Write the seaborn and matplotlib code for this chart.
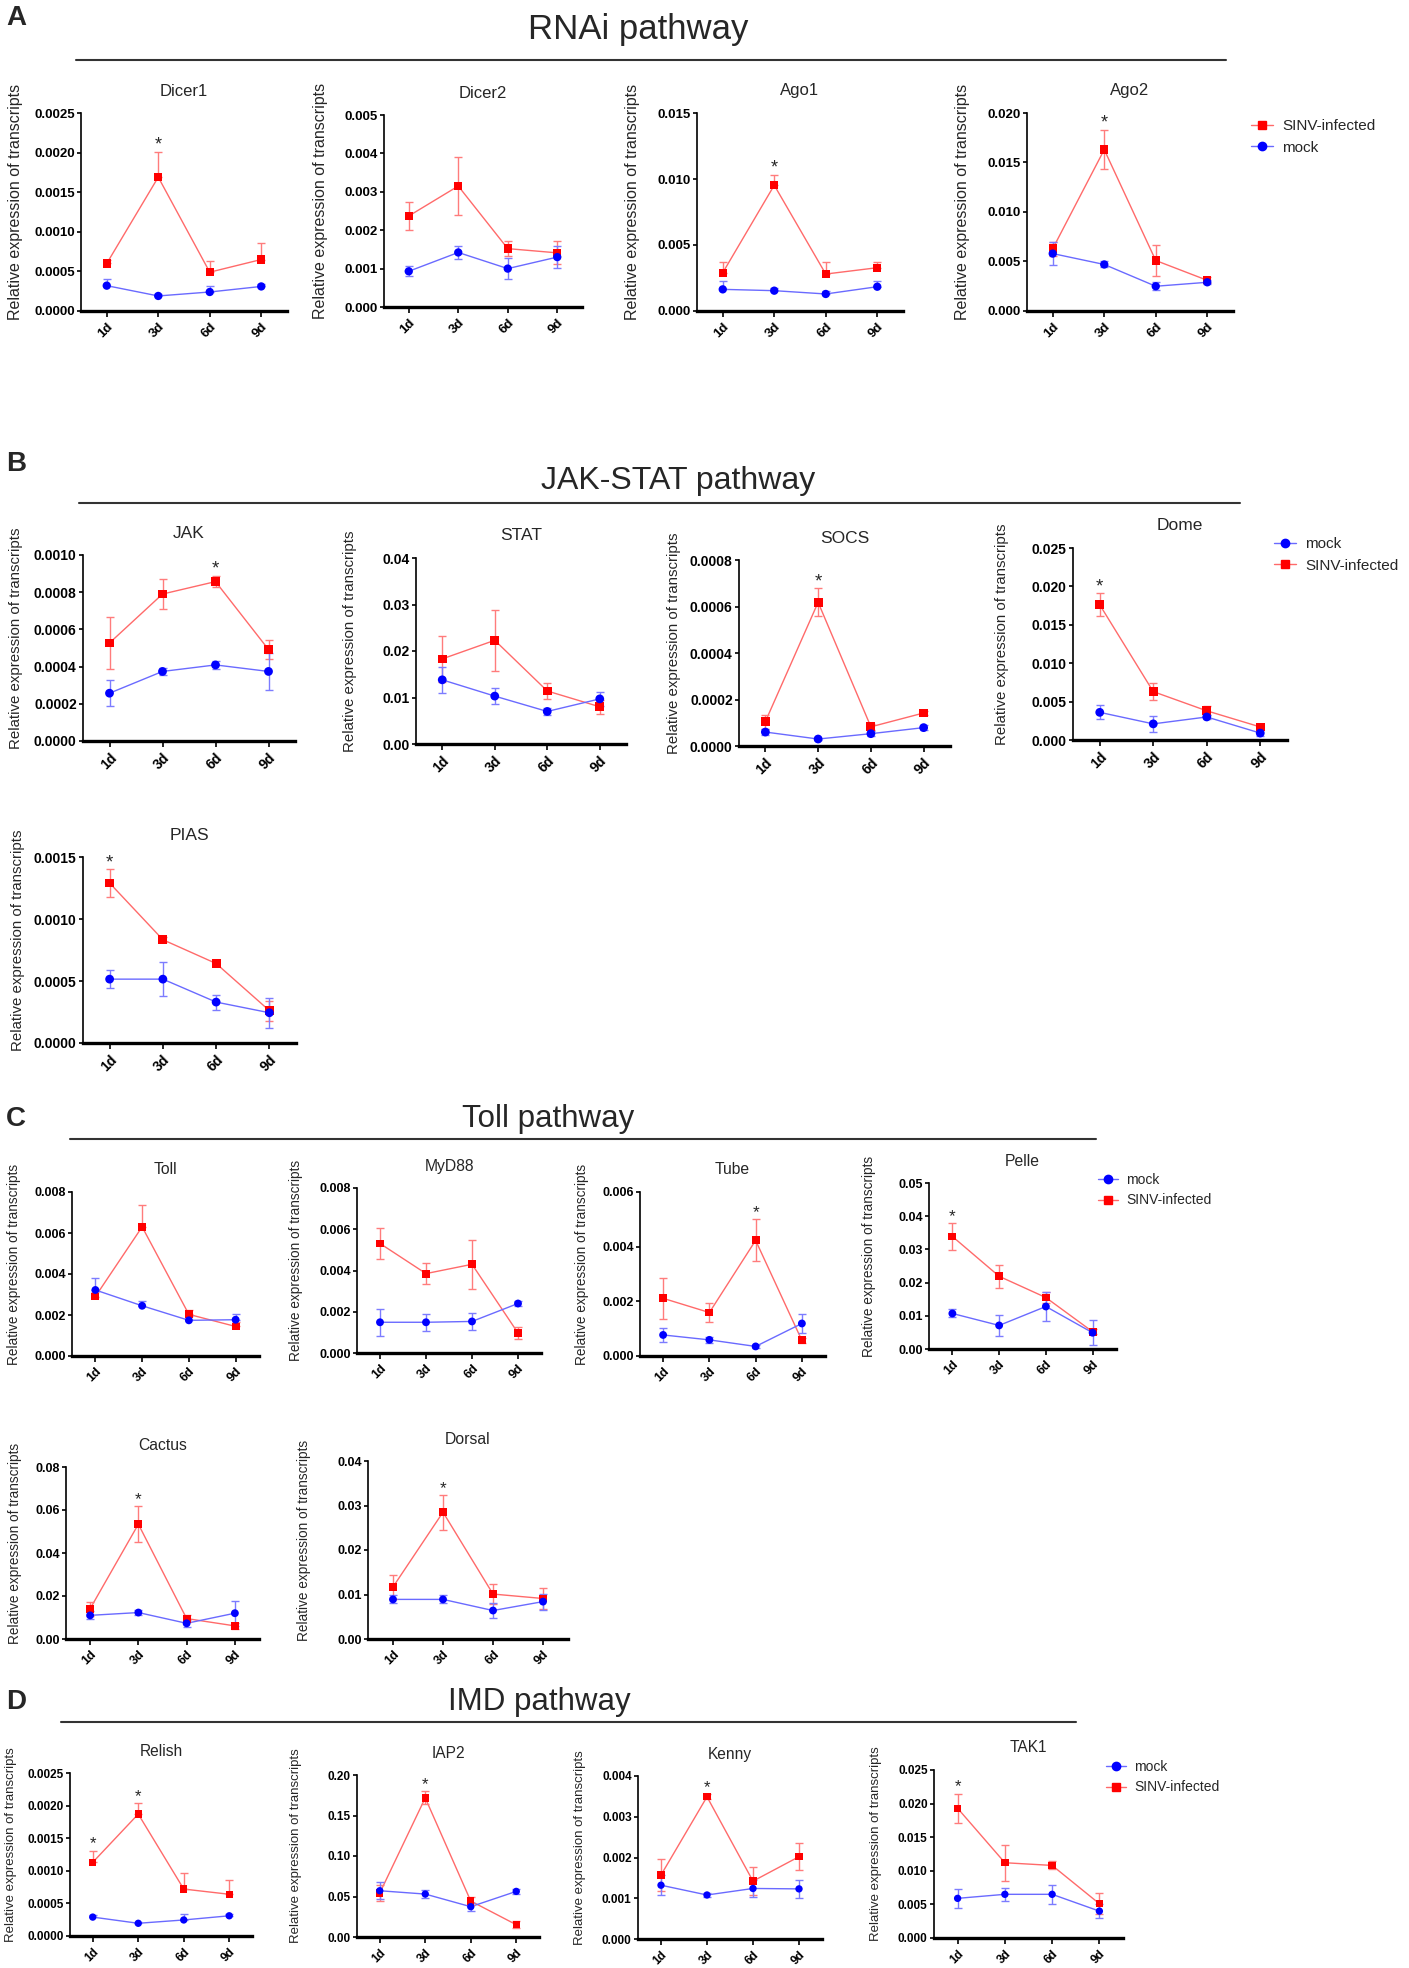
import matplotlib
matplotlib.use("Agg")
import matplotlib.pyplot as plt
import numpy as np
import pandas as pd
import seaborn as sns
from matplotlib.lines import Line2D
from matplotlib.ticker import FormatStrFormatter, MultipleLocator

DAYS = ["1d", "3d", "6d", "9d"]
YLABEL = "Relative expression of transcripts"

# RNAi pathway
dicer1_inf = [0.00060, 0.00169, 0.00049, 0.00065]
dicer1_inf_err = [0.00005, 0.00032, 0.00014, 0.00021]
dicer1_mock = [0.00032, 0.00019, 0.00024, 0.00031]
dicer1_mock_err = [0.00009, 0.00002, 0.00008, 0.00003]

dicer2_inf = [0.00237, 0.00315, 0.00152, 0.00141]
dicer2_inf_err = [0.00037, 0.00075, 0.00020, 0.00030]
dicer2_mock = [0.00093, 0.00142, 0.00100, 0.00130]
dicer2_mock_err = [0.00013, 0.00017, 0.00028, 0.00029]

ago1_inf = [0.0029, 0.00953, 0.0028, 0.00328]
ago1_inf_err = [0.0008, 0.0008, 0.0009, 0.0004]
ago1_mock = [0.00164, 0.00154, 0.00129, 0.00184]
ago1_mock_err = [0.0006, 0.0002, 0.0002, 0.0004]

ago2_inf = [0.0063, 0.0163, 0.0051, 0.0031]
ago2_inf_err = [0.0007, 0.0020, 0.0016, 0.0003]
ago2_mock = [0.0058, 0.0047, 0.0025, 0.0029]
ago2_mock_err = [0.0012, 0.0003, 0.0004, 0.0002]

# JAK-STAT pathway
jak_inf = [0.000527, 0.00079, 0.000857, 0.000492]
jak_inf_err = [0.00014, 0.00008, 0.00003, 0.00005]
jak_mock = [0.000257, 0.000374, 0.000409, 0.000374]
jak_mock_err = [0.00007, 0.00002, 0.00002, 0.0001]

stat_inf = [0.0183, 0.0223, 0.0114, 0.0080]
stat_inf_err = [0.0050, 0.0066, 0.0018, 0.0015]
stat_mock = [0.0138, 0.0103, 0.0070, 0.0097]
stat_mock_err = [0.0028, 0.0018, 0.0008, 0.0015]

socs_inf = [0.000105, 0.000618, 0.0000825, 0.000142]
socs_inf_err = [0.00003, 0.00006, 0.000014, 0.000008]
socs_mock = [0.00006, 0.00003, 0.000053, 0.000079]
socs_mock_err = [0.000012, 0.000005, 0.00001, 0.00001]

dome_inf = [0.0176, 0.0063, 0.0038, 0.0017]
dome_inf_err = [0.0015, 0.0011, 0.0006, 0.0004]
dome_mock = [0.0036, 0.0021, 0.0030, 0.0009]
dome_mock_err = [0.0009, 0.0010, 0.0003, 0.0004]

pias_inf = [0.00129, 0.000833, 0.000641, 0.000261]
pias_inf_err = [0.00011, 0.00002, 0.00001, 0.00008]
pias_mock = [0.000515, 0.000515, 0.00033, 0.000244]
pias_mock_err = [0.00007, 0.000135, 0.00006, 0.00012]

# Toll pathway
toll_inf = [0.0029, 0.0063, 0.00203, 0.00144]
toll_inf_err = [0.0002, 0.00105, 0.00023, 0.0002]
toll_mock = [0.00322, 0.00245, 0.00174, 0.00177]
toll_mock_err = [0.00057, 0.00025, 0.0002, 0.00026]

myd88_inf = [0.00531, 0.00385, 0.0043, 0.00097]
myd88_inf_err = [0.00075, 0.0005, 0.0012, 0.0003]
myd88_mock = [0.00149, 0.00149, 0.00153, 0.0024]
myd88_mock_err = [0.00066, 0.0004, 0.00043, 0.0001]

tube_inf = [0.00211, 0.00159, 0.00423, 0.00057]
tube_inf_err = [0.00076, 0.00035, 0.00077, 0.0001]
tube_mock = [0.00077, 0.00059, 0.00035, 0.00119]
tube_mock_err = [0.00027, 0.00012, 0.00005, 0.00036]

pelle_inf = [0.0339, 0.0219, 0.0155, 0.0052]
pelle_inf_err = [0.0041, 0.0035, 0.0017, 0.0007]
pelle_mock = [0.0107, 0.0071, 0.0128, 0.0049]
pelle_mock_err = [0.0012, 0.0031, 0.0044, 0.0038]

cactus_inf = [0.0141, 0.0534, 0.0095, 0.0061]
cactus_inf_err = [0.0032, 0.0083, 0.0018, 0.0015]
cactus_mock = [0.0110, 0.0123, 0.0073, 0.0120]
cactus_mock_err = [0.0018, 0.0012, 0.0015, 0.0058]

dorsal_inf = [0.0117, 0.0285, 0.0101, 0.0091]
dorsal_inf_err = [0.0027, 0.0039, 0.0022, 0.0024]
dorsal_mock = [0.0089, 0.0089, 0.0064, 0.0084]
dorsal_mock_err = [0.0009, 0.0009, 0.0017, 0.0018]

# IMD pathway
relish_inf = [0.00113, 0.00187, 0.00072, 0.00064]
relish_inf_err = [0.00018, 0.00017, 0.00024, 0.00022]
relish_mock = [0.00029, 0.000195, 0.000246, 0.00031]
relish_mock_err = [0.00003, 0.00002, 0.00009, 0.00003]

iap2_inf = [0.0542, 0.1717, 0.0444, 0.0152]
iap2_inf_err = [0.010, 0.008, 0.005, 0.004]
iap2_mock = [0.0571, 0.0530, 0.0374, 0.0563]
iap2_mock_err = [0.0103, 0.0053, 0.005, 0.003]

kenny_inf = [0.00157, 0.00349, 0.00142, 0.00202]
kenny_inf_err = [0.00039, 0.00006, 0.00035, 0.00033]
kenny_mock = [0.00132, 0.00108, 0.00124, 0.00123]
kenny_mock_err = [0.00025, 0.00005, 0.0002, 0.00023]

tak1_inf = [0.0193, 0.0112, 0.0108, 0.0051]
tak1_inf_err = [0.0022, 0.0027, 0.0006, 0.0016]
tak1_mock = [0.0059, 0.0065, 0.0065, 0.0040]
tak1_mock_err = [0.0014, 0.0010, 0.0014, 0.0010]

# significance stars (index into DAYS)
stars = {
    "Dicer1": [1], "Ago1": [1], "Ago2": [1], "JAK": [2], "SOCS": [1],
    "Dome": [0], "PIAS": [0], "Tube": [2], "Pelle": [0], "Cactus": [1],
    "Dorsal": [1], "Relish": [0, 1], "IAP2": [1], "Kenny": [1], "TAK1": [0],
}

# panels whose error bars are drawn above the mean only
upper_only = ["Dicer1", "Ago1", "Toll", "Relish"]

series = {
    "Dicer1": (dicer1_inf, dicer1_inf_err, dicer1_mock, dicer1_mock_err),
    "Dicer2": (dicer2_inf, dicer2_inf_err, dicer2_mock, dicer2_mock_err),
    "Ago1": (ago1_inf, ago1_inf_err, ago1_mock, ago1_mock_err),
    "Ago2": (ago2_inf, ago2_inf_err, ago2_mock, ago2_mock_err),
    "JAK": (jak_inf, jak_inf_err, jak_mock, jak_mock_err),
    "STAT": (stat_inf, stat_inf_err, stat_mock, stat_mock_err),
    "SOCS": (socs_inf, socs_inf_err, socs_mock, socs_mock_err),
    "Dome": (dome_inf, dome_inf_err, dome_mock, dome_mock_err),
    "PIAS": (pias_inf, pias_inf_err, pias_mock, pias_mock_err),
    "Toll": (toll_inf, toll_inf_err, toll_mock, toll_mock_err),
    "MyD88": (myd88_inf, myd88_inf_err, myd88_mock, myd88_mock_err),
    "Tube": (tube_inf, tube_inf_err, tube_mock, tube_mock_err),
    "Pelle": (pelle_inf, pelle_inf_err, pelle_mock, pelle_mock_err),
    "Cactus": (cactus_inf, cactus_inf_err, cactus_mock, cactus_mock_err),
    "Dorsal": (dorsal_inf, dorsal_inf_err, dorsal_mock, dorsal_mock_err),
    "Relish": (relish_inf, relish_inf_err, relish_mock, relish_mock_err),
    "IAP2": (iap2_inf, iap2_inf_err, iap2_mock, iap2_mock_err),
    "Kenny": (kenny_inf, kenny_inf_err, kenny_mock, kenny_mock_err),
    "TAK1": (tak1_inf, tak1_inf_err, tak1_mock, tak1_mock_err),
}

# per-section text/marker sizes (the sub-figures were scaled differently)
styles = {
    "A": dict(tick=9.5, title=12, ylabel=11.5, marker=36),
    "B": dict(tick=10, title=12.5, ylabel=10.85, marker=40),
    "C": dict(tick=9, title=11.3, ylabel=9.8, marker=32),
    "D": dict(tick=8.5, title=11.2, ylabel=9.5, marker=28),
}

# layout in pixels: (name, section, left, right, top, bottom, ymax, step, decimals, ylabel gap)
panels = [
    ("Dicer1", "A", 81, 287, 113, 311, 0.0025, 0.0005, 4, 65),
    ("Dicer2", "A", 384, 582, 115, 307, 0.005, 0.001, 3, 63),
    ("Ago1", "A", 697, 903, 113, 311, 0.015, 0.005, 3, 64),
    ("Ago2", "A", 1027, 1233, 113, 311, 0.020, 0.005, 3, 64),
    ("JAK", "B", 83, 295, 555, 741, 0.0010, 0.0002, 4, 67),
    ("STAT", "B", 416, 626, 558, 744, 0.04, 0.01, 2, 66),
    ("SOCS", "B", 739, 950, 560, 746, 0.0008, 0.0002, 4, 65),
    ("Dome", "B", 1073, 1287, 548, 740, 0.025, 0.005, 3, 71),
    ("PIAS", "B", 83, 296, 857, 1043, 0.0015, 0.0005, 4, 65),
    ("Toll", "C", 72, 259, 1192, 1356, 0.008, 0.002, 3, 58),
    ("MyD88", "C", 357, 541, 1188, 1353, 0.008, 0.002, 3, 61),
    ("Tube", "C", 640, 825, 1192, 1356, 0.006, 0.002, 3, 58),
    ("Pelle", "C", 929, 1116, 1183, 1349, 0.05, 0.01, 2, 60),
    ("Cactus", "C", 66, 259, 1467, 1639, 0.08, 0.02, 2, 51),
    ("Dorsal", "C", 368, 568, 1461, 1639, 0.04, 0.01, 2, 64),
    ("Relish", "D", 70, 252, 1773, 1936, 0.0025, 0.0005, 4, 59),
    ("IAP2", "D", 357, 539, 1775, 1937, 0.20, 0.05, 2, 61),
    ("Kenny", "D", 638, 822, 1776, 1939, 0.004, 0.001, 3, 58),
    ("TAK1", "D", 934, 1123, 1770, 1938, 0.025, 0.005, 3, 58),
]

# section headers: letter, title, letter y, title x, title y, title size, line x0, line x1, line y
sections = [
    ("A", "RNAi pathway", 18, 638, 29, 25, 76, 1226, 60),
    ("B", "JAK-STAT pathway", 464, 678, 481, 23, 79, 1240, 503),
    ("C", "Toll pathway", 1119, 548, 1119, 22.5, 70, 1096, 1139),
    ("D", "IMD pathway", 1702, 539, 1702, 22.5, 61, 1076, 1722),
]

# legends: marker x, center y, fontsize, order
legends = [
    (1262, 137, 11, ["SINV-infected", "mock"]),
    (1285, 555, 11, ["mock", "SINV-infected"]),
    (1108, 1190, 10, ["mock", "SINV-infected"]),
    (1116, 1777, 10, ["mock", "SINV-infected"]),
]

RED, BLUE = "#ff0000", "#0000ff"
LINE_COLORS = {"SINV-infected": "#ff6a6a", "mock": "#6a6aff"}
ERR_COLORS = {"SINV-infected": "#ff7c7c", "mock": "#7c7cff"}
MARK_COLORS = {"SINV-infected": RED, "mock": BLUE}
MARKERS = {"SINV-infected": "s", "mock": "o"}

W, H = 1409, 1968

sns.set_style("ticks")
plt.rcParams["font.family"] = ["Liberation Sans", "DejaVu Sans"]

fig = plt.figure(figsize=(W / 100, H / 100), dpi=100)


def px_rect(left, right, top, bottom):
    return [left / W, 1 - bottom / H, (right - left) / W, (bottom - top) / H]


def draw_panel(name, section, left, right, top, bottom, ymax, step, decimals, gap):
    st = styles[section]
    inf, inf_err, mock, mock_err = series[name]
    ax = fig.add_axes(px_rect(left, right, top, bottom))
    x = np.arange(len(DAYS))
    df = pd.DataFrame({
        "day": np.concatenate([x, x]),
        "value": list(inf) + list(mock),
        "err": list(inf_err) + list(mock_err),
        "group": ["SINV-infected"] * len(x) + ["mock"] * len(x),
    })
    sns.lineplot(data=df, x="day", y="value", hue="group", palette=LINE_COLORS,
                 linewidth=1.0, errorbar=None, legend=False, ax=ax)
    for grp in ["SINV-infected", "mock"]:
        sub = df[df["group"] == grp]
        err = sub["err"].to_numpy()
        lower = np.zeros_like(err) if name in upper_only else err
        ax.errorbar(sub["day"], sub["value"], yerr=[lower, err], fmt="none",
                    ecolor=ERR_COLORS[grp], elinewidth=1.0, capsize=3, capthick=1.0,
                    zorder=2.5)
    for grp, z in [("SINV-infected", 3), ("mock", 4)]:
        sub = df[df["group"] == grp]
        sns.scatterplot(data=sub, x="day", y="value", marker=MARKERS[grp],
                        color=MARK_COLORS[grp], s=st["marker"], edgecolor="none",
                        legend=False, ax=ax, zorder=z)

    for i in stars.get(name, []):
        ax.annotate("*", xy=(i, inf[i] + inf_err[i]), xytext=(0, 1.5),
                    textcoords="offset points", ha="center", va="baseline",
                    fontsize=st["title"] + 1)

    ax.set_xlim(-0.5, 3.5)
    ax.set_ylim(0, ymax)
    ax.yaxis.set_major_locator(MultipleLocator(step))
    ax.yaxis.set_major_formatter(FormatStrFormatter(f"%.{decimals}f"))
    ax.set_xticks(x)
    ax.set_xticklabels(DAYS, rotation=45, ha="right", rotation_mode="anchor",
                       fontweight="bold", fontsize=st["tick"])
    for lab in ax.get_yticklabels():
        lab.set_fontweight("bold")
        lab.set_fontsize(st["tick"])
    ax.tick_params(axis="y", length=3, width=1.2, pad=1.5, colors="black")
    ax.tick_params(axis="x", length=4, width=1.2, pad=3, colors="black")
    sns.despine(ax=ax)
    ax.spines["bottom"].set_linewidth(2.4)
    ax.spines["left"].set_linewidth(1.2)
    ax.spines["bottom"].set_color("black")
    ax.spines["left"].set_color("black")
    ax.set_xlabel("")
    ax.set_ylabel(YLABEL, fontsize=st["ylabel"], va="center")
    width, height = right - left, bottom - top
    ax.yaxis.set_label_coords(-gap / width, 0.5 + 10 / height)
    ax.text(0.5, 1 + 22 / height, name, transform=ax.transAxes, ha="center",
            va="center", fontsize=st["title"])


for spec in panels:
    draw_panel(*spec)

for letter, title, ly, tx, ty, tsize, x0, x1, yl in sections:
    fig.text(16 / W, 1 - ly / H, letter, ha="center", va="center",
             fontsize=20, fontweight="bold")
    fig.text(tx / W, 1 - ty / H, title, ha="center", va="center", fontsize=tsize)
    fig.add_artist(Line2D([x0 / W, x1 / W], [1 - yl / H, 1 - yl / H],
                          transform=fig.transFigure, color="#333333", lw=1.5))

for mx, cy, fsize, order in legends:
    handles = [Line2D([], [], color=LINE_COLORS[g], lw=1.0, marker=MARKERS[g],
                      markersize=6, markerfacecolor=MARK_COLORS[g],
                      markeredgecolor=MARK_COLORS[g]) for g in order]
    hl = 1.4
    fig.legend(handles, order, loc="center left",
               bbox_to_anchor=((mx - hl * fsize * 100 / 72 / 2) / W, 1 - cy / H),
               frameon=False, fontsize=fsize, handlelength=hl, handletextpad=0.6,
               borderpad=0, borderaxespad=0, labelspacing=0.5)

fig.savefig("out.png", dpi=100)
